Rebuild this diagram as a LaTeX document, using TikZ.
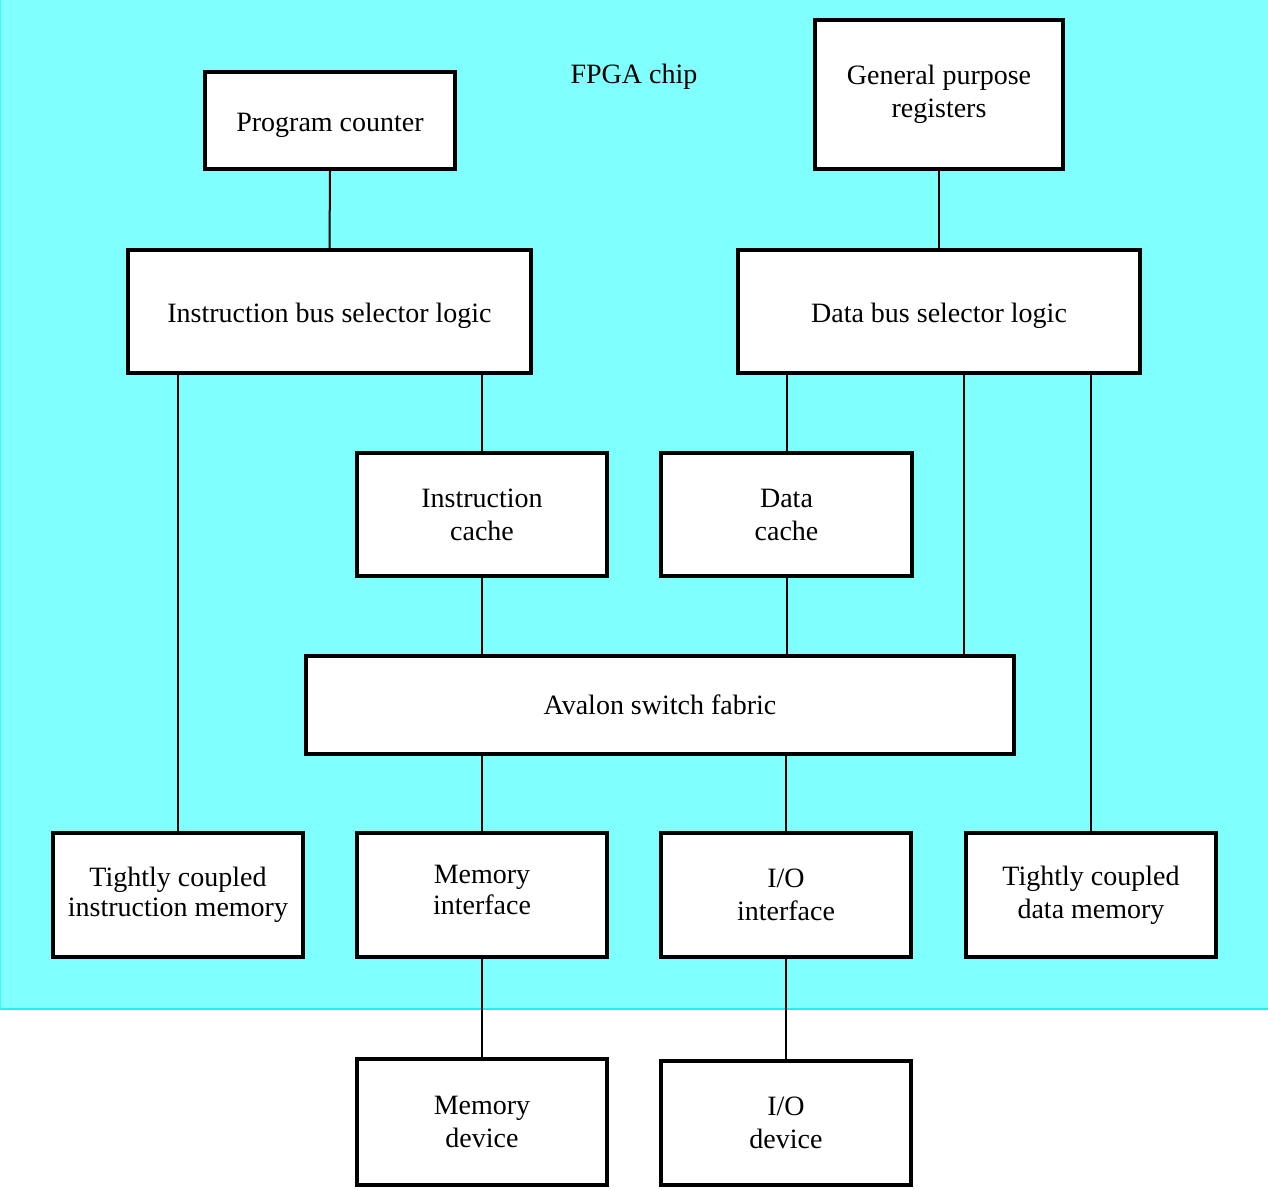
\documentclass[tikz,border=0pt]{standalone}
\usepackage{fontspec}
\setmainfont{Liberation Serif}
\usetikzlibrary{calc}
\definecolor{chipfill}{HTML}{80FFFF}
\definecolor{chipedge}{HTML}{20F0F0}
\newcommand{\lowertext}[1]{\raisebox{-4.5pt}[\height][\depth]{#1}}
\begin{document}
\begin{tikzpicture}[x=1pt,y=-1pt,
  box/.style={draw=black,fill=white,line width=4pt,inner sep=0pt,align=center,
    font=\fontsize{28}{33}\selectfont},
  conn/.style={draw=black,line width=2pt},
  lbl/.style={font=\fontsize{28}{33}\selectfont,inner sep=0pt}]
\useasboundingbox (0,0) rectangle (1268,1189);
\fill[chipfill] (0,0) rectangle (1268,1009);
\draw[chipedge,line width=1.5pt] (0,1009) -- (1268,1009);
\draw[chipedge!60!chipfill,line width=1pt] (0.5,0) -- (0.5,1009);

\node[lbl] (fpga) at (634,77) {FPGA chip};

\node[box,minimum width=250pt,minimum height=97pt] (pc) at (330,120.5) {\lowertext{Program counter}};
\node[box,minimum width=248pt,minimum height=149pt] (gpr) at (939,94.5) {General purpose\\registers};
\node[box,minimum width=403pt,minimum height=123pt] (ibsl) at (329.5,311.5) {\lowertext{Instruction bus selector logic}};
\node[box,minimum width=402pt,minimum height=123pt] (dbsl) at (939,311.5) {\lowertext{Data bus selector logic}};
\node[box,minimum width=250pt,minimum height=123pt] (icache) at (482,514.5) {Instruction\\cache};
\node[box,minimum width=251pt,minimum height=123pt] (dcache) at (786.5,514.5) {Data\\cache};
\node[box,minimum width=708pt,minimum height=98pt] (avalon) at (660,705) {Avalon switch fabric};
\node[box,minimum width=250pt,minimum height=124pt] (tcim) at (178,895) {Tightly coupled\\[-3pt]instruction memory};
\node[box,minimum width=250pt,minimum height=124pt] (memif) at (482,895) {Memory\\[-2pt]interface\\[-23pt]};
\node[box,minimum width=250pt,minimum height=124pt] (ioif) at (786,895) {I/O\\interface};
\node[box,minimum width=250pt,minimum height=124pt] (tcdm) at (1091,895) {Tightly coupled\\data memory};
\node[box,minimum width=250pt,minimum height=126pt] (memdev) at (482,1122) {Memory\\device};
\node[box,minimum width=250pt,minimum height=124pt] (iodev) at (786,1123) {I/O\\device};

\path[conn] (pc.south) -- (ibsl.north);
\path[conn] (gpr.south) -- (dbsl.north);
\path[conn] (ibsl.south -| tcim.north) -- (tcim.north);
\path[conn] (ibsl.south -| icache.north) -- (icache.north);
\path[conn] (dbsl.south -| dcache.north) -- (dcache.north);
\coordinate (dtap) at ($(dbsl.south)+(25,0)$);
\path[conn] (dtap) -- (dtap |- avalon.north);
\path[conn] (dbsl.south -| tcdm.north) -- (tcdm.north);
\path[conn] (icache.south) -- (icache.south |- avalon.north);
\path[conn] (dcache.south) -- (dcache.south |- avalon.north);
\path[conn] (avalon.south -| memif.north) -- (memif.north);
\path[conn] (avalon.south -| ioif.north) -- (ioif.north);
\path[conn] (memif.south) -- (memdev.north);
\path[conn] (ioif.south) -- (iodev.north);
\end{tikzpicture}
\end{document}
